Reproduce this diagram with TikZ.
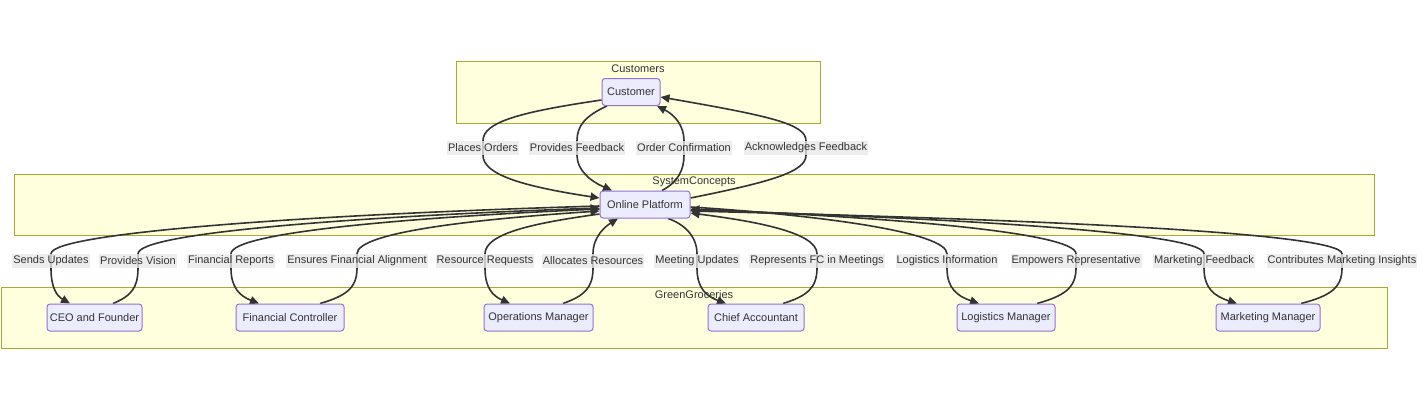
\documentclass[tikz,border=0pt]{standalone}
\usepackage{fontspec}
\setmainfont{Liberation Sans}
\usetikzlibrary{arrows.meta}
\definecolor{clfill}{HTML}{FFFFDE}
\definecolor{cldraw}{HTML}{AAAA33}
\definecolor{ndfill}{HTML}{ECECFF}
\definecolor{nddraw}{HTML}{9370DB}
\definecolor{txt}{HTML}{333333}
\definecolor{lblbg}{HTML}{E8E8E8}
\pgfdeclarelayer{back}
\pgfdeclarelayer{edges}
\pgfsetlayers{back,edges,main}
\begin{document}
\begin{tikzpicture}[x=1pt,y=-1pt,
 font=\fontsize{11}{13}\selectfont, text=txt,
 cluster/.style={draw=cldraw,fill=clfill,line width=1pt,inner sep=0pt},
 cltitle/.style={inner sep=0pt,text=txt},
 box/.style={draw=nddraw,fill=ndfill,line width=1pt,rounded corners=3pt,minimum height=27pt,inner sep=0pt},
 lbl/.style={fill=lblbg,fill opacity=0.8,text opacity=1,inner xsep=1pt,inner ysep=0pt,minimum height=14pt},
 edge/.style={draw=txt,line width=1.6pt,-{Triangle[length=9pt,width=8pt]}}]
\useasboundingbox (0,0) rectangle (1426,402);
\begin{pgfonlayer}{back}
\node[cluster,minimum width=364pt,minimum height=62pt] (cCust) at (638,92) {};
\node[cluster,minimum width=1360pt,minimum height=61pt] (cSys) at (694,204.5) {};
\node[cluster,minimum width=1386pt,minimum height=61pt] (cGreen) at (694,317.5) {};
\node[cltitle] (tCust) at (638,69) {Customers};
\node[cltitle] (tSys) at (694,182) {SystemConcepts};
\node[cltitle] (tGreen) at (694,295) {GreenGroceries};
\end{pgfonlayer}
% nodes
\node[box,minimum width=58pt] (cust) at (631,92) {Customer};
\node[box,minimum width=90pt] (plat) at (645,204.5) {Online Platform};
\node[box,minimum width=95pt] (ceo) at (94.5,317.5) {CEO and Founder};
\node[box,minimum width=108pt] (fc) at (290,317.5) {Financial Controller};
\node[box,minimum width=109pt] (ops) at (538.5,317.5) {Operations Manager};
\node[box,minimum width=96pt] (ca) at (756,317.5) {Chief Accountant};
\node[box,minimum width=98pt] (log) at (1006,317.5) {Logistics Manager};
\node[box,minimum width=104pt] (mk) at (1268,317.5) {Marketing Manager};
% labels
\node[lbl] (l1) at (483,148) {Places Orders};
\node[lbl] (l2) at (577,148) {Provides Feedback};
\node[lbl] (l3) at (684,148) {Order Confirmation};
\node[lbl] (l4) at (806,148) {Acknowledges Feedback};
\node[lbl] (l5) at (51,261) {Sends Updates};
\node[lbl] (l6) at (138,261) {Provides Vision};
\node[lbl] (l7) at (231,261) {Financial Reports};
\node[lbl] (l8) at (357,261) {Ensures Financial Alignment};
\node[lbl] (l9) at (485,261) {Resource Requests};
\node[lbl] (l10) at (593,261) {Allocates Resources};
\node[lbl] (l11) at (697,261) {Meeting Updates};
\node[lbl] (l12) at (817,261) {Represents FC in Meetings};
\node[lbl] (l13) at (947,261) {Logistics Information};
\node[lbl] (l14) at (1076,261) {Empowers Representative};
\node[lbl] (l15) at (1204,261) {Marketing Feedback};
\node[lbl] (l16) at (1342,261) {Contributes Marketing Insights};
\begin{pgfonlayer}{edges}
% top edges
\draw[edge] ([yshift=-8pt]cust.west) .. controls (520,112) and (483,122) .. (l1.north) -- (l1.south) .. controls (483,174) and (520,186) .. ([yshift=6.5pt]plat.west);
\draw[edge] ([xshift=-24pt]cust.south) .. controls (585,116) and (577,126) .. (l2.north) -- (l2.south) .. controls (577,170) and (590,181) .. ([xshift=-33pt]plat.north);
\draw[edge] ([xshift=17pt]plat.north) .. controls (678,182) and (684,170) .. (l3.south) -- (l3.north) .. controls (684,126) and (675,115) .. ([xshift=26pt]cust.south);
\draw[edge] ([yshift=6.5pt]plat.east) .. controls (770,182) and (806,172) .. (l4.south) -- (l4.north) .. controls (806,124) and (770,116) .. ([yshift=-5pt]cust.east);
% bottom edges
\draw[edge] ([yshift=-1.5pt]plat.west) .. controls (325,214) and (51,232) .. (l5.north) -- (l5.south) .. controls (51,288) and (57,296) .. ([xshift=-24.5pt]ceo.north);
\draw[edge] ([xshift=18.5pt]ceo.north) .. controls (131,296) and (138,288) .. (l6.south) -- (l6.north) .. controls (138,232) and (369,216) .. ([yshift=-3.5pt]plat.west);
\draw[edge] ([yshift=-4.5pt]plat.west) .. controls (415,217) and (231,232) .. (l7.north) -- (l7.south) .. controls (231,288) and (240,296) .. ([xshift=-31pt]fc.north);
\draw[edge] ([xshift=30pt]fc.north) .. controls (346,296) and (357,288) .. (l8.south) -- (l8.north) .. controls (357,232) and (478,219) .. ([yshift=-6.5pt]plat.west);
\draw[edge] ([yshift=-9.5pt]plat.west) .. controls (542,222) and (485,232) .. (l9.north) -- (l9.south) .. controls (485,288) and (493,296) .. ([xshift=-28.5pt]ops.north);
\draw[edge] ([xshift=24.5pt]ops.north) .. controls (584,296) and (593,288) .. (l10.south) -- (l10.north) .. controls (593,236) and (606,226) .. ([xshift=-27pt]plat.south);
\draw[edge] ([xshift=23pt]plat.south) .. controls (684,224) and (697,236) .. (l11.north) -- (l11.south) .. controls (697,288) and (706,296) .. ([xshift=-30pt]ca.north);
\draw[edge] ([xshift=27pt]ca.north) .. controls (807,296) and (817,288) .. (l12.south) -- (l12.north) .. controls (817,232) and (753,221) .. ([yshift=-8.5pt]plat.east);
\draw[edge] ([yshift=-2.5pt]plat.east) .. controls (818,215) and (947,232) .. (l13.north) -- (l13.south) .. controls (947,288) and (957,296) .. ([xshift=-27pt]log.north);
\draw[edge] ([xshift=31pt]log.north) .. controls (1064,296) and (1076,288) .. (l14.south) -- (l14.north) .. controls (1076,232) and (883,217) .. ([yshift=-4.5pt]plat.east);
\draw[edge] ([yshift=-5.5pt]plat.east) .. controls (947,218) and (1204,232) .. (l15.north) -- (l15.south) .. controls (1204,288) and (1214,296) .. ([xshift=-31pt]mk.north);
\draw[edge] ([xshift=33pt]mk.north) .. controls (1330,296) and (1342,288) .. (l16.south) -- (l16.north) .. controls (1342,232) and (1016,219) .. ([yshift=-6.5pt]plat.east);
\end{pgfonlayer}
\end{tikzpicture}
\end{document}
